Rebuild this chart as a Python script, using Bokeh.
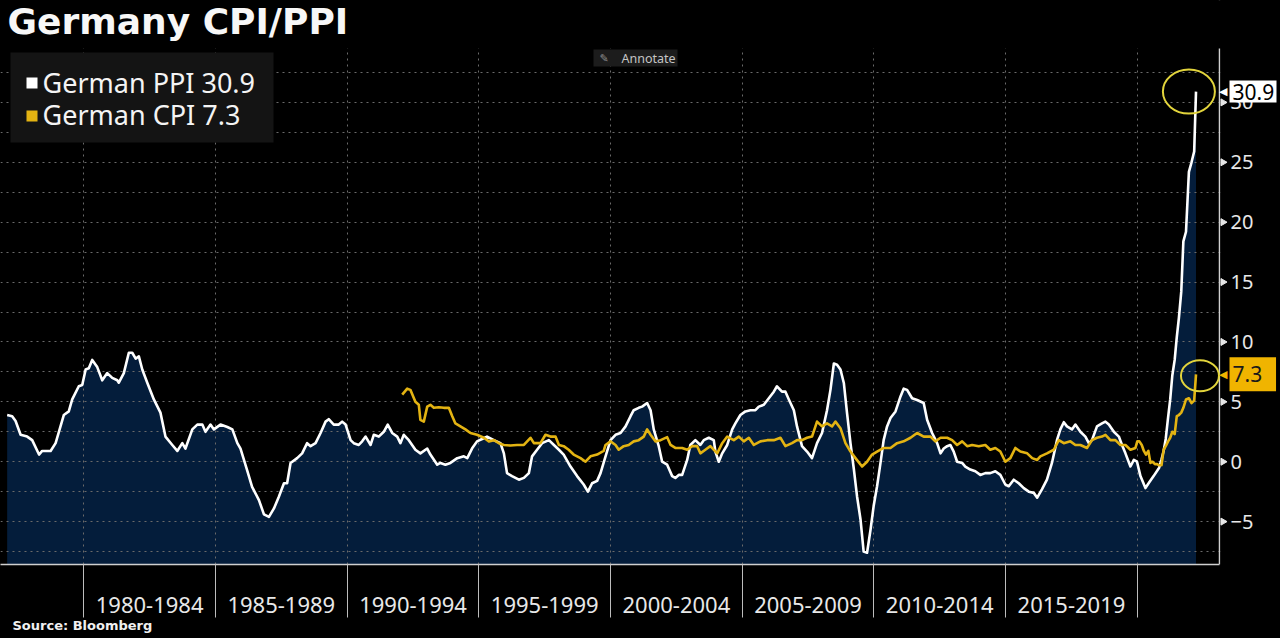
import math
from bokeh.plotting import figure
from bokeh.models import Range1d, FixedTicker, Label, BoxAnnotation, Span, Title
from bokeh.embed import file_html
from bokeh.resources import INLINE

# ---------------- data (decimal years, % y/y) ----------------
ppi_dates_a = [1977.09, 1977.28, 1977.41, 1977.60, 1977.85, 1978.04, 1978.30, 1978.42, 1978.74, 1978.93,
               1979.24, 1979.43, 1979.56, 1979.81, 1979.94, 1980.07, 1980.19, 1980.32, 1980.51, 1980.70,
               1980.89, 1981.08, 1981.27, 1981.33, 1981.52, 1981.71, 1981.84, 1981.97, 1982.09, 1982.22,
               1982.41, 1982.66, 1982.91, 1983.10, 1983.36, 1983.55, 1983.74, 1983.86, 1984.12, 1984.31,
               1984.50, 1984.62, 1984.81, 1984.94, 1985.19, 1985.45, 1985.64, 1985.83, 1985.95, 1986.20,
               1986.39, 1986.65, 1986.84, 1987.03, 1987.22, 1987.41, 1987.60, 1987.72, 1987.85, 1988.10,
               1988.29, 1988.48, 1988.61, 1988.80]
ppi_vals_a = [3.9, 3.8, 3.4, 2.25, 2.1, 1.8, 0.6, 0.9, 0.9, 1.55,
              3.9, 4.2, 5.2, 6.3, 6.4, 7.7, 7.8, 8.5, 7.9, 6.8,
              7.4, 7.0, 6.8, 6.6, 7.4, 9.1, 9.1, 8.6, 8.8, 7.7,
              6.6, 5.2, 4.1, 2.1, 1.4, 0.9, 1.55, 1.1, 2.7, 3.1,
              3.1, 2.5, 3.1, 2.7, 3.1, 2.9, 2.7, 1.55, 1.1, -0.7,
              -2.1, -3.2, -4.4, -4.6, -3.9, -2.9, -1.8, -1.8, -0.1, 0.3,
              0.7, 1.55, 1.3, 1.55]

ppi_dates_b = [1988.99, 1989.18, 1989.30, 1989.49, 1989.68, 1989.81, 1989.94, 1990.13, 1990.25, 1990.44,
               1990.57, 1990.70, 1990.89, 1991.01, 1991.20, 1991.39, 1991.54, 1991.71, 1991.90, 1992.02,
               1992.15, 1992.34, 1992.59, 1992.78, 1993.04, 1993.16, 1993.42, 1993.54, 1993.73, 1993.92,
               1994.18, 1994.43, 1994.56, 1994.74, 1994.93, 1995.12, 1995.31, 1995.57, 1995.82, 1995.95,
               1996.07, 1996.26, 1996.52, 1996.71, 1996.90, 1997.02, 1997.21, 1997.40, 1997.66, 1997.85,
               1998.04, 1998.22, 1998.48, 1998.73, 1998.98, 1999.14, 1999.30, 1999.49]
ppi_vals_b = [2.4, 3.35, 3.55, 3.1, 3.1, 3.35, 3.1, 1.8, 1.55, 1.4,
              1.7, 2.1, 1.4, 2.25, 2.1, 2.5, 3.1, 2.4, 2.1, 1.55,
              2.25, 1.8, 1.0, 0.7, 1.1, 0.6, -0.25, -0.1, -0.25, -0.1,
              0.3, 0.45, 0.3, 1.1, 1.7, 1.9, 2.1, 1.8, 1.55, 0.7,
              -0.95, -1.2, -1.5, -1.35, -0.95, 0.45, 1.0, 1.55, 1.8, 1.4,
              1.0, 0.6, -0.4, -1.2, -1.9, -2.5, -1.8, -1.6]

ppi_dates_c = [1999.62, 1999.81, 2000.00, 2000.19, 2000.38, 2000.57, 2000.76, 2000.88, 2001.07, 2001.20,
               2001.39, 2001.52, 2001.64, 2001.83, 2001.96, 2002.15, 2002.34, 2002.46, 2002.59, 2002.72,
               2002.91, 2003.03, 2003.22, 2003.41, 2003.54, 2003.73, 2003.92, 2003.98, 2004.11, 2004.24,
               2004.43, 2004.62, 2004.74, 2004.93, 2005.12, 2005.31, 2005.50, 2005.63, 2005.82, 2006.01,
               2006.20, 2006.32, 2006.51, 2006.64, 2006.77, 2006.96, 2007.08, 2007.27, 2007.46, 2007.65,
               2007.84, 2008.03, 2008.22, 2008.35, 2008.48, 2008.60, 2008.73, 2008.86, 2008.98, 2009.11,
               2009.24, 2009.36, 2009.49, 2009.61, 2009.74, 2009.87, 2009.99, 2010.12, 2010.25, 2010.37,
               2010.50, 2010.63, 2010.82, 2011.01, 2011.13, 2011.26, 2011.45, 2011.64]
ppi_vals_c = [-0.95, 0.45, 1.8, 2.25, 2.4, 2.95, 3.8, 4.3, 4.5, 4.6,
              4.9, 4.3, 2.7, 1.3, 0.0, -0.25, -1.2, -1.35, -1.1, -1.1,
              0.15, 1.4, 1.8, 1.4, 1.8, 2.0, 1.8, 0.85, 0.0, 0.7,
              1.4, 2.7, 3.2, 3.9, 4.2, 4.3, 4.3, 4.6, 4.75, 5.3,
              5.85, 6.3, 5.85, 5.85, 5.2, 4.3, 2.95, 1.3, 0.85, 0.3,
              1.55, 2.4, 4.3, 6.0, 8.2, 8.1, 7.7, 6.55, 4.05, 1.55,
              -0.65, -2.9, -4.8, -7.5, -7.6, -5.7, -3.7, -2.05, -0.1, 1.8,
              2.95, 3.65, 4.2, 5.45, 6.1, 6.0, 5.3, 5.15]

ppi_dates_d = [2011.89, 2012.02, 2012.21, 2012.40, 2012.53, 2012.65, 2012.78, 2012.90, 2013.03, 2013.16,
               2013.35, 2013.47, 2013.66, 2013.85, 2014.04, 2014.23, 2014.42, 2014.61, 2014.80, 2014.99,
               2015.12, 2015.31, 2015.50, 2015.69, 2015.88, 2016.07, 2016.20, 2016.38, 2016.57, 2016.76,
               2016.95, 2017.08, 2017.21, 2017.33, 2017.52, 2017.65, 2017.84, 2018.03, 2018.16, 2018.28,
               2018.47, 2018.66, 2018.79, 2018.92, 2019.11, 2019.30, 2019.42, 2019.55, 2019.74, 2019.87,
               2019.99, 2020.12, 2020.31, 2020.43, 2020.62, 2020.83]
ppi_vals_d = [4.9, 3.5, 2.4, 1.55, 0.7, 1.1, 1.3, 1.4, 0.85, 0.0,
              -0.1, -0.4, -0.65, -0.8, -1.1, -0.95, -0.95, -0.8, -1.1, -1.9,
              -2.05, -1.5, -1.8, -2.2, -2.5, -2.6, -3.0, -2.3, -1.5, -0.1,
              1.8, 2.7, 3.3, 2.95, 2.7, 3.1, 2.5, 2.1, 1.55, 1.8,
              2.95, 3.2, 3.35, 3.1, 2.5, 2.1, 1.4, 0.7, -0.4, 0.15,
              0.0, -1.2, -2.2, -1.8, -1.2, -0.5]

ppi_dates_e = [2020.92, 2021.00, 2021.08, 2021.17, 2021.25, 2021.33, 2021.42, 2021.50, 2021.58, 2021.67,
               2021.75, 2021.85, 2021.96, 2022.06, 2022.16, 2022.23]
ppi_vals_e = [0.2, 0.9, 1.9, 3.7, 5.2, 7.2, 8.5, 10.4, 12.0, 14.2,
              18.4, 19.2, 24.2, 25.0, 25.9, 30.9]

cpi_dates_a = [1992.09, 1992.28, 1992.40, 1992.59, 1992.72, 1992.78, 1992.91, 1993.04, 1993.16, 1993.29,
               1993.48, 1993.67, 1993.86, 1993.99, 1994.11, 1994.30, 1994.49, 1994.68, 1994.93, 1995.19,
               1995.38, 1995.57, 1995.76, 1995.95, 1996.20, 1996.45, 1996.71, 1996.96, 1997.09, 1997.34,
               1997.53, 1997.72, 1997.91, 1998.04, 1998.22, 1998.41, 1998.60, 1998.86, 1999.05, 1999.24,
               1999.49, 1999.74]
cpi_vals_a = [5.6, 6.1, 6.0, 5.0, 4.75, 3.5, 3.35, 4.6, 4.75, 4.5,
              4.55, 4.5, 4.5, 3.8, 3.2, 2.95, 2.7, 2.4, 2.25, 2.0,
              1.7, 1.8, 1.55, 1.4, 1.35, 1.4, 1.4, 2.0, 1.55, 1.55,
              2.25, 2.1, 2.1, 1.4, 1.3, 1.0, 0.6, 0.3, 0.0, 0.45,
              0.6, 0.9]

cpi_dates_b = [1999.81, 2000.00, 2000.19, 2000.31, 2000.50, 2000.69, 2000.88, 2001.07, 2001.26, 2001.39,
               2001.52, 2001.71, 2001.90, 2002.15, 2002.28, 2002.46, 2002.72, 2002.91, 2003.10, 2003.29,
               2003.41, 2003.60, 2003.79, 2004.05, 2004.24, 2004.43, 2004.68, 2004.87, 2005.06, 2005.25,
               2005.44, 2005.69, 2005.95, 2006.20, 2006.45, 2006.64, 2006.89, 2007.08, 2007.27, 2007.46,
               2007.65, 2007.84, 2008.03, 2008.22, 2008.41, 2008.54, 2008.73, 2008.92, 2009.11, 2009.30,
               2009.55, 2009.74, 2009.93, 2010.12, 2010.37, 2010.63, 2010.88, 2011.13, 2011.39, 2011.64]
cpi_vals_b = [1.4, 1.7, 1.4, 1.0, 1.3, 1.4, 1.7, 1.8, 2.1, 2.7,
              2.25, 1.7, 1.8, 2.05, 1.4, 1.15, 1.15, 1.0, 1.3, 1.3,
              0.7, 1.0, 1.3, 0.7, 1.55, 2.1, 1.8, 2.1, 1.7, 2.0,
              1.4, 1.7, 1.8, 1.8, 2.0, 1.3, 1.55, 1.8, 1.8, 2.0,
              2.1, 3.35, 2.95, 3.2, 2.95, 3.35, 2.8, 1.55, 0.85, 0.3,
              -0.4, 0.0, 0.6, 0.85, 1.15, 1.15, 1.55, 1.7, 2.0, 2.4]

cpi_dates_c = [2011.89, 2012.15, 2012.33, 2012.53, 2012.78, 2012.97, 2013.16, 2013.35, 2013.54, 2013.73,
               2013.98, 2014.23, 2014.42, 2014.61, 2014.80, 2014.99, 2015.18, 2015.37, 2015.56, 2015.82,
               2016.01, 2016.20, 2016.32, 2016.57, 2016.83, 2017.02, 2017.21, 2017.46, 2017.65, 2017.84,
               2018.09, 2018.28, 2018.47, 2018.66, 2018.79, 2018.98, 2019.17, 2019.36, 2019.55, 2019.74,
               2019.93]
cpi_vals_c = [2.1, 2.1, 1.7, 2.0, 2.0, 1.8, 1.4, 1.7, 1.3, 1.4,
              1.3, 1.4, 1.0, 1.15, 0.85, 0.0, 0.3, 1.15, 0.85, 0.7,
              0.3, 0.15, 0.45, 0.7, 1.0, 1.8, 1.55, 1.7, 1.4, 1.4,
              1.15, 1.8, 2.0, 2.1, 2.25, 1.8, 1.8, 1.4, 1.4, 1.0,
              1.15]

cpi_dates_d = [2020.00, 2020.08, 2020.17, 2020.25, 2020.33, 2020.42, 2020.50, 2020.58, 2020.67, 2020.75,
               2020.83, 2020.92, 2021.00, 2021.08, 2021.17, 2021.25, 2021.33, 2021.42, 2021.50, 2021.58,
               2021.67, 2021.75, 2021.85, 2021.96, 2022.06, 2022.16, 2022.23]
cpi_vals_d = [1.7, 1.7, 1.4, 0.9, 0.6, 0.9, -0.1, 0.0, -0.2, -0.2,
              -0.3, -0.3, 1.0, 1.3, 1.7, 2.0, 2.5, 2.3, 3.8, 3.9,
              4.1, 4.5, 5.2, 5.3, 4.9, 5.1, 7.3]

period_starts = [1980, 1985, 1990, 1995, 2000, 2005, 2010, 2015, 2020]
period_labels = ["1980-1984", "1985-1989", "1990-1994", "1995-1999", "2000-2004",
                 "2005-2009", "2010-2014", "2015-2019"]
y_ticks = [-5, 0, 5, 10, 15, 20, 25, 30]
y_grid = [-7.5, -5, -2.5, 0, 2.5, 5, 7.5, 10, 12.5, 15, 17.5, 20, 22.5, 25, 27.5, 30, 32.5]

ppi_dates = ppi_dates_a + ppi_dates_b + ppi_dates_c + ppi_dates_d + ppi_dates_e
ppi_vals = ppi_vals_a + ppi_vals_b + ppi_vals_c + ppi_vals_d + ppi_vals_e
cpi_dates = cpi_dates_a + cpi_dates_b + cpi_dates_c + cpi_dates_d
cpi_vals = cpi_vals_a + cpi_vals_b + cpi_vals_c + cpi_vals_d

# ---------------- layout / styling ----------------
W, H = 1280, 638
NAVY = "#041d3b"
CPI_COL = "#e3b312"
RING = "#e2d43c"
GRID = "#6a6a6a"
TXT = "#e8e8e8"
AXIS = "#cfcfcf"

PLOT_TOP, FRAME_B = 48, 564      # visible plot area (page pixels); frame itself starts at 0
RIGHT_PAD = 4
FRAME_R = W - RIGHT_PAD
PX_PER_YEAR = 26.337
X0 = 1980 - 83.3 / PX_PER_YEAR
X1 = X0 + FRAME_R / PX_PER_YEAR
Y0 = -8.58
UNITS_PER_PX = (34.5 - Y0) / (FRAME_B - PLOT_TOP)
Y1 = Y0 + FRAME_B * UNITS_PER_PX
AXIS_PX = 1219                     # where the value axis sits


def X(px):
    return X0 + px / PX_PER_YEAR


def Y(py):
    return Y1 - py * UNITS_PER_PX


def make_label(**kw):
    try:
        return Label(**kw)
    except Exception:
        kw.pop("padding", None)
        return Label(**kw)


p = figure(width=W, height=H, output_backend="svg", toolbar_location=None,
           x_range=Range1d(X0, X1), y_range=Range1d(Y0, Y1),
           y_axis_location="right",
           min_border_left=0, min_border_right=RIGHT_PAD,
           min_border_top=0, min_border_bottom=H - FRAME_B)
p.background_fill_color = "#000000"
p.border_fill_color = "#000000"
p.outline_line_color = None
p.title.visible = False

# grids
p.xgrid.ticker = FixedTicker(ticks=period_starts)
p.ygrid.ticker = FixedTicker(ticks=y_grid)
for g in (p.xgrid, p.ygrid):
    g.grid_line_color = GRID
    g.grid_line_dash = "2 4"
    g.grid_line_width = 1

# value-axis line
p.add_layout(Span(location=X(AXIS_PX), dimension="height", line_color=AXIS, line_width=1.5,
                  level="underlay"))
# black strips above the plot area and right of the value axis (hide grid / axis line there)
p.add_layout(BoxAnnotation(left=X(AXIS_PX + 1), right=X1 + 1, fill_color="#000000",
                           fill_alpha=1.0, line_color=None, level="underlay"))
p.add_layout(BoxAnnotation(bottom=Y(PLOT_TOP), top=Y1 + 1, fill_color="#000000",
                           fill_alpha=1.0, line_color=None, level="underlay"))

# x axis: labels centred in each 5-year block, separators as long minor ticks
mids = [s + 2.5 for s in period_starts[:-1]]
xa = p.xaxis[0]
xa.ticker = FixedTicker(ticks=mids, minor_ticks=period_starts)
xa.bounds = (X0, X(AXIS_PX))
xa.major_label_overrides = {m: lab for m, lab in zip(mids, period_labels)}
xa.major_tick_out = 0
xa.major_tick_in = 0
xa.major_tick_line_color = None
xa.minor_tick_out = 53
xa.minor_tick_in = 0
xa.minor_tick_line_color = "#bdbdbd"
xa.minor_tick_line_width = 1
xa.axis_line_color = AXIS
xa.axis_line_width = 1.5
xa.major_label_text_font = "Noto Sans"
xa.major_label_text_font_size = "22px"
xa.major_label_text_color = TXT
xa.major_label_standoff = -21

p.add_layout(Title(text="Source: Bloomberg", align="left", offset=12, standoff=0,
                   text_font="DejaVu Sans", text_font_style="bold", text_font_size="13px",
                   text_color="#f0f0f0"), "below")

# value axis: labels drawn by the axis, line and tick marks drawn at AXIS_PX
ya = p.yaxis[0]
ya.ticker = FixedTicker(ticks=y_ticks)
ya.fixed_location = X(1250)
ya.major_tick_out = 0
ya.major_tick_in = 0
ya.major_tick_line_color = None
ya.minor_tick_line_color = None
ya.axis_line_color = None
ya.major_label_text_font = "Noto Sans"
ya.major_label_text_font_size = "20px"
ya.major_label_text_color = TXT
ya.major_label_standoff = -20

p.scatter(x=[X(AXIS_PX + 3.5)] * len(y_ticks), y=y_ticks, marker="triangle",
          angle=-math.pi / 2, size=7, fill_color="#e6e6e6", line_color="#e6e6e6")

# area under PPI down to the bottom of the plot
p.varea(x=ppi_dates, y1=ppi_vals, y2=[Y0 - 20] * len(ppi_vals), fill_color=NAVY, level="image")
p.line(ppi_dates, ppi_vals, line_color="#ffffff", line_width=2.6, line_join="round")
p.line(cpi_dates, cpi_vals, line_color=CPI_COL, line_width=2.6, line_join="round")

# highlight rings around latest values
p.ellipse(x=[ppi_dates[-1] - 0.27], y=[ppi_vals[-1]], width=52, height=44,
          width_units="screen", height_units="screen",
          fill_color=None, line_color=RING, line_width=2)
p.ellipse(x=[cpi_dates[-1] + 0.15], y=[cpi_vals[-1] - 0.12], width=38, height=31,
          width_units="screen", height_units="screen",
          fill_color=None, line_color=RING, line_width=2)

# legend panel
p.add_layout(BoxAnnotation(left=X(10), right=X(273), top=Y(52), bottom=Y(142),
                           fill_color="#141414", fill_alpha=1.0, line_color=None))
p.add_layout(BoxAnnotation(left=X(26), right=X(37), top=Y(77), bottom=Y(88),
                           fill_color="#ffffff", fill_alpha=1.0, line_color=None))
p.add_layout(BoxAnnotation(left=X(26), right=X(37), top=Y(110), bottom=Y(121),
                           fill_color=CPI_COL, fill_alpha=1.0, line_color=None))
p.add_layout(Label(x=X(42), y=Y(82), text=f"German PPI {ppi_vals[-1]:.1f}", text_font="Noto Sans",
                   text_font_size="27px", text_color="#f4f4f4", text_baseline="middle"))
p.add_layout(Label(x=X(42), y=Y(114), text=f"German CPI {cpi_vals[-1]:.1f}", text_font="Noto Sans",
                   text_font_size="27px", text_color="#f4f4f4", text_baseline="middle"))

# title (drawn after the legend panel so nothing covers it)
p.add_layout(Label(x=X(7), y=Y(21), text="Germany CPI/PPI", text_font="DejaVu Sans",
                   text_font_style="bold", text_font_size="36px", text_color="#f7f7f7",
                   text_baseline="middle", text_align="left"))

# "Annotate" button
p.add_layout(BoxAnnotation(left=X(593), right=X(677), top=Y(49), bottom=Y(66),
                           fill_color="#1c1c1c", fill_alpha=1.0, line_color=None))
p.add_layout(Label(x=X(599), y=Y(58), text="\u270e", text_font="DejaVu Sans",
                   text_font_size="11px", text_color="#8a8a8a", text_baseline="middle"))
p.add_layout(Label(x=X(621), y=Y(58), text="Annotate", text_font="Noto Sans",
                   text_font_size="12.5px", text_color="#c4c4c4", text_baseline="middle"))

# last-value tags on the value axis
p.add_layout(make_label(x=X(1229), y=ppi_vals[-1], text=f"{ppi_vals[-1]:.1f}", text_font="Noto Sans",
                        text_font_size="21px", text_color="#000000", text_baseline="middle",
                        background_fill_color="#ffffff", padding=3))
p.add_layout(Label(x=X(1227), y=ppi_vals[-1], text="\u25c0", text_font="DejaVu Sans",
                   text_font_size="11px", text_color="#ffffff", text_baseline="middle",
                   text_align="right"))
p.add_layout(make_label(x=X(1229), y=cpi_vals[-1], text=f"{cpi_vals[-1]:.1f}\u00a0\u00a0",
                        text_font="Noto Sans", text_font_size="21px", text_color="#1a1a1a",
                        text_baseline="middle", background_fill_color="#f0b400", padding=3))
p.add_layout(Label(x=X(1227), y=cpi_vals[-1], text="\u25c0", text_font="DejaVu Sans",
                   text_font_size="11px", text_color="#f0b400", text_baseline="middle",
                   text_align="right"))

html = file_html(p, INLINE, title="Germany CPI/PPI")
html = html.replace("</head>", "<style>html, body { background-color: #000000; }</style></head>", 1)
open("out.html", "w").write(html)
